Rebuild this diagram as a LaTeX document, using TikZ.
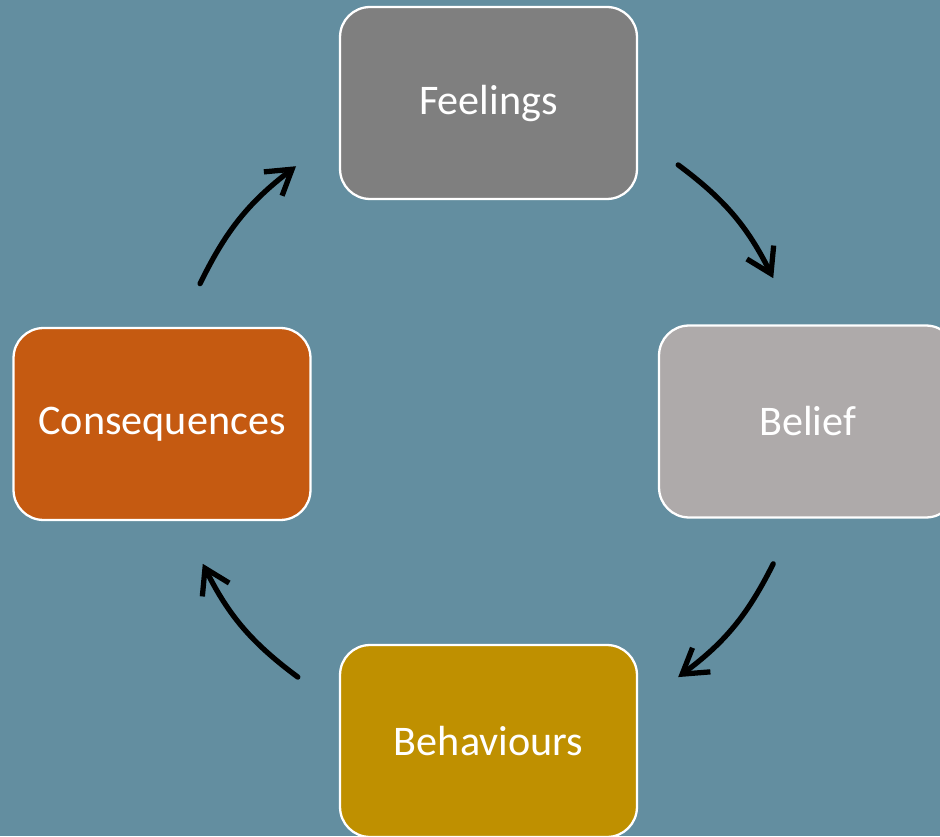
\documentclass[tikz,border=0pt]{standalone}
\usepackage{fontspec}
\setmainfont{Carlito}
\usetikzlibrary{arrows.meta}
\definecolor{bgblue}{HTML}{638EA0}
\definecolor{feelgray}{HTML}{7F7F7F}
\definecolor{beliefgray}{HTML}{AEAAAA}
\definecolor{behavgold}{HTML}{BF9000}
\definecolor{conseqorange}{HTML}{C55A11}
\begin{document}
\begin{tikzpicture}[x=0.02cm, y=0.02cm, line join=round, line cap=round,
	box/.style={draw=white, line width=1.3pt, rounded corners=0.6cm, minimum width=5.94cm,
		minimum height=3.84cm, text=white, font=\fontsize{24}{28}\selectfont},
	cyc/.style={line width=3pt, -{Straight Barb[length=4.8mm,width=6mm]}}]
	\def\r{319}
	\fill[bgblue] (0,0) rectangle (940,836);
	\useasboundingbox (0,0) rectangle (940,836);
	\clip (0,0) rectangle (940,836);
	\coordinate (hub) at (488,415);
	\node[box, fill=feelgray] (feel) at (488.5,733) {Feelings};
	\node[box, fill=beliefgray] (belief) at (807.5,414.5) {Belief};
	\node[box, fill=behavgold] (behav) at (488.5,95) {Behaviours};
	\node[box, fill=conseqorange] (conseq) at (162,412) {Consequences};
	% ends of the arcs, on a circle round the hub
	\foreach \n/\a in {f1/53.4, b0/26.6, b1/-26.6, h0/-53.4, h1/-126.6, c0/-153.4, c1/154.5, f0/127}
		\coordinate (\n) at ([shift={(\a:\r)}]hub);
	\foreach \s/\t in {f1/b0, b1/h0, h1/c0, c1/f0}
		\draw[cyc] (\s) to[bend left=13.4] (\t);
\end{tikzpicture}
\end{document}
